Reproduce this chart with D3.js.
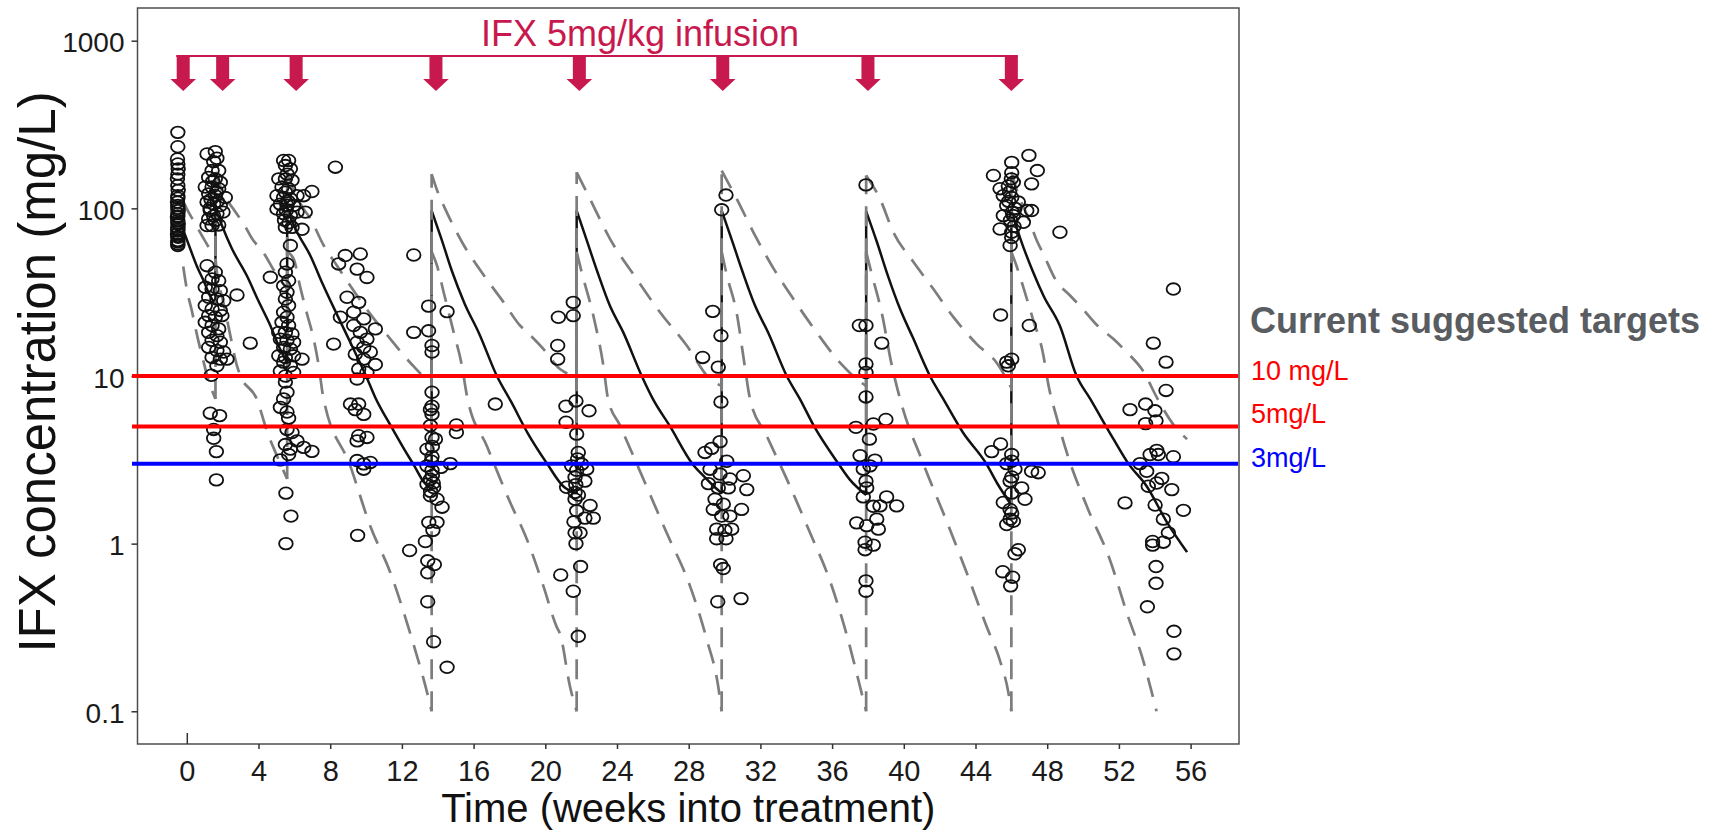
<!DOCTYPE html>
<html>
<head>
<meta charset="utf-8">
<script src="https://cdn.jsdelivr.net/npm/d3@7"></script>
<style>
  body { margin: 0; background: #fff; }
  svg { display: block; font-family: "Liberation Sans", Arial, sans-serif; }
</style>
</head>
<body>
<script>
// axis ticks
const xTicks = [0, 4, 8, 12, 16, 20, 24, 28, 32, 36, 40, 44, 48, 52, 56];
const yTicks = [0.1, 1, 10, 100, 1000];
const yTickLabels = ['0.1', '1', '10', '100', '1000'];

// infusion arrows (weeks, as placed on the slide)
const infusionWeeks = [-0.2, 2.0, 6.1, 13.9, 21.9, 29.9, 38.0, 46.0];

// target concentrations (mg/L)
const targetValues = [10, 5, 3];
const targetLabels = ['10 mg/L', '5mg/L', '3mg/L'];
const targetColors = ['#ff0000', '#ff0000', '#0000ff'];

// model median prediction [week, mg/L]
const medianPred = [
  [-0.15, 72], [0.2, 57], [0.57, 45], [0.94, 37], [1.3, 30], [1.6, 27],
  [1.6, 100], [1.96, 79], [2.5, 58], [3.36, 39.5], [4.0, 28], [4.66, 20], [5.2, 14.5], [5.6, 12],
  [5.6, 98], [6.1, 74], [6.9, 52], [7.6, 35], [8.4, 23], [9.3, 14.5], [10.0, 10], [10.5, 7.5], [11.4, 5.0], [12.1, 3.7], [12.7, 2.9], [13.2, 2.35], [13.66, 2.1],
  [13.66, 97], [14.2, 66], [14.8, 42], [15.5, 27], [16.3, 18], [17.3, 10], [18.1, 7.0], [19.0, 4.6], [20.1, 3.0], [21.0, 2.2], [21.75, 2.0],
  [21.75, 97], [22.3, 65], [22.9, 42], [23.6, 26.3], [24.35, 18.2], [25.38, 10], [26.0, 7.3], [26.96, 5.0], [28.2, 3.0], [28.8, 2.55], [29.4, 2.2], [29.84, 2.0],
  [29.84, 97], [30.4, 65], [31.0, 42], [31.7, 26.3], [32.45, 18], [33.47, 10], [34.2, 7.3], [35.0, 5.0], [36.35, 3.0], [37.0, 2.4], [37.9, 1.95],
  [37.9, 96], [38.5, 63], [39.1, 40], [39.8, 25], [40.5, 17], [41.46, 10], [42.2, 7.3], [43.3, 4.6], [44.6, 3.0], [45.2, 2.3], [46.0, 1.7],
  [46.0, 97], [46.5, 66], [47.2, 42], [47.8, 30], [48.7, 20], [49.64, 10], [50.4, 7.3], [51.7, 4.2], [52.53, 3.0], [53.55, 2.2], [54.7, 1.33], [55.8, 0.89]
];

// lower prediction bound
const lowerPred = [
  [-0.2, 45], [0.0, 33], [0.3, 24], [0.6, 17], [0.9, 12.6], [1.2, 9.5], [1.6, 7.3],
  [1.6, 50], [1.7, 40], [2.0, 28.8], [2.2, 22.9], [2.45, 17], [2.8, 11.5], [3.0, 10], [3.9, 7.3], [4.5, 4.6], [5.0, 3.4], [5.6, 2.43],
  [5.6, 55], [5.96, 50], [6.33, 33.8], [6.71, 23.4], [7.08, 16.6], [7.36, 11.5], [7.6, 7.6], [9.12, 2.91], [10.24, 1.27], [11.36, 0.67], [12.47, 0.29], [13.4, 0.13], [13.66, 0.1],
  [13.66, 55], [13.96, 45.5], [14.33, 31.6], [14.89, 18.2], [15.35, 11.5], [15.63, 7.6], [16.75, 3.8], [18.03, 1.77], [18.96, 1.07], [19.89, 0.56], [20.63, 0.32], [20.82, 0.29], [21.38, 0.14], [21.75, 0.1],
  [21.75, 55], [22.03, 41.6], [22.68, 22.9], [23.24, 11.5], [23.5, 7.3], [24.17, 5.06], [25.47, 2.43], [26.77, 1.16], [28.07, 0.56], [29.0, 0.27], [29.65, 0.14], [29.84, 0.1],
  [29.84, 55], [30.1, 41], [30.7, 23], [31.1, 12], [31.42, 7.3], [32.35, 4.4], [33.65, 2.2], [34.77, 1.16], [35.88, 0.6], [36.8, 0.29], [37.56, 0.14], [37.9, 0.1],
  [37.9, 55], [38.2, 41], [38.8, 23], [39.3, 12], [39.79, 7.3], [41.09, 3.0], [42.39, 1.36], [43.51, 0.67], [44.62, 0.32], [45.37, 0.2], [45.83, 0.13], [46.0, 0.1],
  [46.0, 55], [46.3, 45], [46.67, 33.8], [47.2, 21.9], [47.75, 13.9], [48.1, 8.5], [48.5, 5.8], [49.09, 3.5], [50.2, 1.68], [51.5, 0.8], [52.43, 0.39], [53.36, 0.2], [53.83, 0.13], [54.1, 0.1]
];

// upper prediction bound
const upperPred = [
  [-0.2, 110], [0.01, 99], [0.5, 80], [0.94, 66], [1.3, 57], [1.6, 52],
  [1.6, 165], [2.0, 125], [2.6, 99], [3.2, 80], [3.64, 66], [4.3, 54], [4.84, 43], [5.6, 33],
  [5.6, 165], [6.0, 125], [6.5, 100], [6.89, 87], [7.64, 60], [8.38, 45.5], [9.12, 34.5], [10.24, 23.4], [11.36, 16.6], [12.47, 12], [13.21, 10], [13.66, 9.5],
  [13.66, 160], [14.0, 125], [14.42, 99], [15.35, 63], [16.56, 40], [17.68, 27.5], [18.59, 20], [19.0, 18.2], [19.89, 14.5], [20.82, 11], [21.75, 10],
  [21.75, 164], [22.49, 114], [23.61, 65.8], [25.1, 37.9], [26.4, 24], [27.89, 15.2], [29.19, 9.6], [29.84, 8.7],
  [29.84, 168], [30.68, 114], [31.61, 72], [32.72, 44], [33.84, 28.8], [35.14, 18.2], [36.44, 12], [37.37, 9.6], [37.9, 8.7],
  [37.9, 157], [38.67, 114], [39.42, 72], [40.53, 48], [41.65, 33], [42.76, 22.5], [44.07, 15.5], [45.18, 12], [46.0, 8.5],
  [46.0, 165], [46.4, 120], [46.9, 90], [47.4, 65], [47.8, 53], [48.5, 37], [49.3, 30], [50.0, 25], [50.8, 20], [51.7, 16.6], [52.4, 14], [53.4, 10.5], [54.1, 7.5], [55.0, 5.2], [55.8, 4.2]
];

// observed concentrations [week, mg/L], grouped by visit
const obsVisit1 = [
  [-0.5, 284], [-0.5, 233], [-0.52, 197], [-0.5, 184], [-0.48, 172], [-0.5, 160], [-0.52, 150], [-0.5, 137],
  [-0.48, 128], [-0.5, 119], [-0.5, 115], [-0.52, 109], [-0.5, 104], [-0.5, 100], [-0.48, 97], [-0.5, 93],
  [-0.5, 90], [-0.52, 88.5], [-0.5, 84.5], [-0.5, 82], [-0.48, 80.7], [-0.5, 77], [-0.5, 75], [-0.5, 73.6],
  [-0.52, 70.3], [-0.5, 68], [-0.48, 67.2], [-0.5, 64.2], [-0.5, 63], [-0.5, 61.3], [-0.5, 60]
];
const obsVisit2 = [
  [1.13, 211], [1.59, 218], [1.68, 199], [1.5, 190], [1.41, 168], [1.78, 168], [1.22, 153], [1.59, 150],
  [1.45, 145], [1.87, 143], [1.03, 134], [1.41, 134], [1.78, 131], [1.65, 125], [1.22, 122], [1.59, 119],
  [2.15, 116], [1.35, 113], [1.7, 110], [1.13, 109], [1.5, 106], [1.87, 104], [1.3, 100], [1.31, 97],
  [1.68, 93], [2.02, 95], [1.5, 90], [1.22, 86.5], [1.59, 84.5], [1.41, 79], [1.78, 79.6], [1.13, 79],
  [1.13, 45.5], [1.59, 41.6], [1.41, 37.9], [1.78, 37], [1.03, 33.8], [1.41, 33], [1.87, 32.3], [1.22, 29.5],
  [1.68, 28.8], [2.06, 28.1], [1.03, 26.3], [1.41, 25.1], [1.87, 24.6], [1.22, 22.9], [1.59, 22.4], [1.96, 22.9],
  [1.03, 20.9], [1.41, 20], [1.78, 19.1], [1.22, 18.2], [1.68, 17.4], [1.41, 16.3], [1.87, 15.9], [1.22, 14.8],
  [1.68, 14.2], [2.06, 13.9], [1.41, 12.9], [1.87, 12.6], [2.24, 12.6], [1.68, 11.5], [1.37, 10.1],
  [1.31, 6.0], [1.83, 5.8], [1.5, 4.8], [1.5, 4.25], [1.65, 3.54], [1.65, 2.4],
  [2.8, 30.4], [3.54, 15.7], [4.66, 38.8]
];
const obsVisit3 = [
  [5.4, 193], [5.68, 193], [5.5, 180], [5.78, 172], [5.6, 160], [5.13, 150], [5.5, 150], [5.87, 147],
  [5.31, 134], [5.68, 131], [5.5, 125], [5.03, 119], [5.4, 116], [5.78, 114], [6.15, 119], [6.52, 119],
  [6.98, 126], [5.65, 110], [5.22, 106], [5.59, 104], [5.96, 104], [6.61, 95], [5.03, 99], [5.55, 97],
  [5.4, 93], [5.78, 90.5], [6.15, 95], [5.45, 85], [5.7, 82], [5.5, 77], [5.87, 77], [6.43, 75], [5.78, 60],
  [8.29, 176], [8.19, 15.5],
  [5.59, 46.6], [5.5, 41.6], [5.68, 37], [5.4, 34.5], [5.59, 31.6], [5.5, 28.8], [5.68, 26.3], [5.4, 24],
  [5.59, 22.4], [5.31, 20.9], [5.68, 20], [5.13, 18.2], [5.5, 18.2], [5.87, 17.8], [5.22, 16.6], [5.59, 16.3],
  [5.96, 15.9], [5.4, 14.8], [5.78, 14.5], [5.13, 13.2], [5.5, 12.9], [5.96, 13.2], [6.43, 12.6], [5.4, 12.1],
  [5.78, 11.5], [5.22, 10.7], [5.96, 10.5], [5.5, 10.0], [5.5, 9.2], [5.59, 8.0], [5.4, 7.3], [5.22, 6.5],
  [5.59, 6.1], [5.68, 5.6], [5.59, 4.8], [5.87, 4.6], [6.15, 4.1], [5.5, 3.9], [5.78, 3.66], [6.52, 3.75],
  [6.98, 3.55], [5.22, 3.16], [5.68, 3.4], [5.53, 2.0], [5.81, 1.46], [5.53, 1.0]
];
const obsVisit4 = [
  [8.84, 52.3], [9.68, 53.4], [8.47, 46.6], [9.5, 43.4], [10.05, 38.7], [8.94, 29.5], [9.59, 27.5], [8.57, 22.4],
  [9.31, 24], [9.87, 21.9], [10.52, 19.1], [9.31, 20], [9.68, 18.2], [10.05, 16.6], [9.5, 15.9], [9.87, 14.8],
  [10.24, 13.9], [9.4, 13.5], [9.87, 12.6], [10.52, 11.7], [9.59, 11], [10.05, 10.5], [9.5, 9.6], [9.13, 6.8],
  [9.59, 6.8], [9.87, 5.9], [9.4, 6.3], [9.59, 4.4], [10.05, 4.3], [9.5, 4.1], [9.5, 3.13], [9.87, 2.99],
  [10.24, 3.05], [9.87, 2.78], [9.53, 1.12],
  [12.66, 52.7], [13.49, 26.1], [14.52, 24.2], [12.66, 18.2], [13.49, 18.6], [17.21, 6.8]
];
const obsVisit5 = [
  [13.68, 15.2], [13.68, 13.9], [13.68, 8.0], [13.68, 6.6], [13.59, 6.3], [13.68, 5.9], [13.59, 5.06], [13.68, 4.3],
  [13.87, 4.2], [13.7, 3.8], [13.4, 3.66], [13.68, 3.3], [13.65, 3.1], [13.4, 2.91], [13.68, 2.74], [13.7, 2.55],
  [13.59, 2.42], [13.75, 2.3], [13.4, 2.26], [13.77, 2.16], [13.6, 2.05], [13.59, 1.93], [13.96, 1.84], [14.24, 1.65],
  [13.5, 1.34], [13.96, 1.34], [13.73, 1.2], [13.31, 1.03], [12.43, 0.91], [13.44, 0.79], [13.81, 0.75], [13.44, 0.67],
  [13.44, 0.45], [13.77, 0.26], [14.52, 0.183], [15.04, 5.1], [15.04, 4.6], [14.7, 3.0], [14.18, 2.85]
];
const obsVisit6 = [
  [21.56, 27.5], [20.73, 22.4], [21.56, 22.9], [20.69, 15.2], [20.69, 12.6], [21.71, 7.1], [21.15, 6.6], [22.44, 6.2],
  [21.16, 5.3], [21.75, 4.5], [21.84, 3.5], [21.8, 3.2], [21.47, 2.91], [22.03, 2.98], [21.75, 2.74], [22.31, 2.78],
  [21.66, 2.49], [22.21, 2.36], [21.7, 2.25], [21.19, 2.17], [21.66, 2.02], [21.85, 1.95], [21.66, 1.84], [22.5, 1.69],
  [21.75, 1.57], [22.21, 1.42], [22.68, 1.42], [21.6, 1.35], [21.66, 1.16], [21.94, 1.16], [21.71, 1.0], [21.97, 0.73],
  [20.86, 0.65], [21.56, 0.52], [21.84, 0.28]
];
const obsVisit7 = [
  [30.08, 120], [29.84, 98], [29.34, 24.3], [29.8, 17.4], [28.78, 12.9], [29.65, 11.3], [29.8, 7.0],
  [29.75, 4.06], [28.91, 3.5], [29.28, 3.7], [30.12, 3.1], [29.19, 2.78], [29.75, 2.6], [30.3, 2.43], [31.05, 2.54],
  [29.1, 2.28], [29.65, 2.15], [30.21, 2.15], [31.24, 2.1], [29.47, 1.84], [29.93, 1.72], [30.95, 1.6], [29.37, 1.6],
  [29.84, 1.46], [30.3, 1.46], [29.56, 1.22], [30.02, 1.2], [30.4, 1.22], [29.56, 1.07], [30.08, 1.07], [29.78, 0.75],
  [29.93, 0.71], [29.62, 0.45], [30.92, 0.47]
];
const obsVisit8 = [
  [37.89, 138], [37.52, 20], [37.89, 20], [38.77, 15.7], [37.89, 11.8], [37.89, 10.5], [37.89, 7.5], [39.0, 5.5],
  [37.33, 4.94], [38.3, 5.17], [38.08, 4.2], [37.56, 3.35], [38.39, 3.15], [37.74, 2.78], [38.11, 2.91], [37.89, 2.36],
  [37.93, 2.15], [37.74, 1.9], [39.04, 1.9], [38.3, 1.67], [38.67, 1.68], [39.6, 1.68], [37.37, 1.33], [37.93, 1.28],
  [38.49, 1.4], [38.58, 1.22], [37.84, 1.02], [38.3, 0.98], [37.84, 0.92], [37.89, 0.6], [37.89, 0.52]
];
const obsVisit9 = [
  [46.02, 188], [46.98, 207], [47.45, 168], [45.0, 157], [46.02, 163], [46.0, 150], [47.13, 140], [45.37, 131],
  [45.83, 136], [46.11, 143], [45.9, 125], [45.55, 119], [46.02, 116], [45.85, 110], [46.39, 109], [45.74, 104],
  [46.2, 100], [46.86, 97], [47.13, 97], [46.05, 95], [45.55, 90.5], [46.11, 90.5], [45.95, 85], [46.67, 82.6],
  [46.15, 78], [45.37, 75.3], [46.02, 72], [46.02, 67], [45.93, 60], [48.71, 72], [45.4, 23.1], [47.0, 20],
  [45.74, 12.1], [46.02, 12.6], [45.83, 11.5],
  [44.9, 3.54], [45.4, 3.93], [46.02, 3.4], [46.02, 3.1], [45.74, 3.0], [46.2, 2.78], [47.13, 2.7], [47.5, 2.65],
  [46.02, 2.5], [45.93, 2.36], [46.58, 2.15], [46.02, 2.0], [46.76, 1.84], [45.55, 1.76], [45.93, 1.6], [46.02, 1.52],
  [45.93, 1.4], [46.11, 1.36], [45.74, 1.3], [46.39, 0.92], [46.2, 0.87], [45.52, 0.68], [46.07, 0.63], [45.96, 0.56]
];
const obsVisit10 = [
  [55.04, 33], [53.92, 15.7], [54.63, 12.1], [54.63, 8.2], [52.62, 6.3], [53.49, 6.8], [54.01, 6.2], [53.49, 5.2],
  [54.07, 5.4], [54.11, 3.6], [54.2, 3.4], [53.74, 3.4], [55.04, 3.3], [53.18, 3.0], [53.55, 2.7], [54.39, 2.45],
  [54.11, 2.3], [53.64, 2.2], [54.95, 2.1], [52.34, 1.75], [54.02, 1.7], [55.6, 1.58], [54.48, 1.4], [54.76, 1.16],
  [53.88, 1.03], [54.48, 1.02], [53.88, 0.98], [54.07, 0.73], [54.07, 0.58], [53.59, 0.42], [55.07, 0.30], [55.07, 0.22]
];
const observed = [].concat(obsVisit1, obsVisit2, obsVisit3, obsVisit4, obsVisit5,
  obsVisit6, obsVisit7, obsVisit8, obsVisit9, obsVisit10);

const width = 1709, height = 830;
const panel = { left: 137.5, right: 1239, top: 8, bottom: 744 };
const font = '"Liberation Sans", Arial, sans-serif';
const crimson = '#c8194f';

const svg = d3.select('body').append('svg')
  .attr('width', width)
  .attr('height', height);

const x = d3.scaleLinear().domain([-2.75, 58.7]).range([panel.left, panel.right]);
const y = d3.scaleLog().domain([0.0638, 1567]).range([panel.bottom, panel.top]);

// split a series wherever the time repeats (dose given -> vertical jump)
function splitAtDoses(points) {
  const segs = [[points[0]]];
  for (let i = 1; i < points.length; i++) {
    if (points[i][0] === points[i - 1][0]) segs.push([]);
    segs[segs.length - 1].push(points[i]);
  }
  return segs;
}

const smooth = d3.line()
  .x(d => x(d[0]))
  .y(d => y(d[1]))
  .curve(d3.curveMonotoneX);

function drawSeries(points, stroke, widthPx, dash) {
  const segs = splitAtDoses(points);
  const g = svg.append('g');
  segs.forEach((seg, i) => {
    g.append('path')
      .attr('d', smooth(seg))
      .attr('fill', 'none')
      .attr('stroke', stroke)
      .attr('stroke-width', widthPx)
      .attr('stroke-dasharray', dash);
    if (i > 0) {
      const prev = segs[i - 1][segs[i - 1].length - 1];
      g.append('line')
        .attr('x1', x(prev[0])).attr('y1', y(prev[1]))
        .attr('x2', x(seg[0][0])).attr('y2', y(seg[0][1]))
        .attr('stroke', stroke)
        .attr('stroke-width', widthPx)
        .attr('stroke-dasharray', dash);
    }
  });
}

drawSeries(medianPred, '#111', 2.5, null);
drawSeries(lowerPred, '#7d7d7d', 2.7, '20,12');
drawSeries(upperPred, '#7d7d7d', 2.7, '20,12');

// observations
svg.append('g')
  .selectAll('ellipse')
  .data(observed)
  .enter().append('ellipse')
  .attr('cx', d => x(d[0]))
  .attr('cy', d => y(d[1]))
  .attr('rx', 6.8)
  .attr('ry', 5.8)
  .attr('fill', 'none')
  .attr('stroke', '#111')
  .attr('stroke-width', 1.8);

// panel border
svg.append('rect')
  .attr('x', panel.left)
  .attr('y', panel.top)
  .attr('width', panel.right - panel.left)
  .attr('height', panel.bottom - panel.top)
  .attr('fill', 'none')
  .attr('stroke', '#4d4d4d')
  .attr('stroke-width', 1.5);

// axes
const xAxisG = svg.append('g')
  .attr('transform', `translate(0,${panel.bottom})`)
  .call(d3.axisBottom(x).tickValues(xTicks).tickSize(5).tickPadding(11).tickFormat(d3.format('d')));
xAxisG.select('.domain').remove();
xAxisG.selectAll('line').attr('stroke', '#333').attr('stroke-width', 1.5);
xAxisG.selectAll('.tick').filter(d => d === 0).select('line').attr('y2', -11);
xAxisG.selectAll('text').attr('font-size', 29).attr('font-family', font).attr('fill', '#1a1a1a');

const yAxisG = svg.append('g')
  .attr('transform', `translate(${panel.left},0)`)
  .call(d3.axisLeft(y).tickValues(yTicks).tickSize(6).tickPadding(7)
    .tickFormat((d, i) => yTickLabels[i]));
yAxisG.select('.domain').remove();
yAxisG.selectAll('line').attr('stroke', '#333').attr('stroke-width', 1.5);
yAxisG.selectAll('text').attr('font-size', 28).attr('font-family', font).attr('fill', '#1a1a1a').attr('dy', '0.4em');

// axis titles
svg.append('text')
  .attr('x', (panel.left + panel.right) / 2)
  .attr('y', 822)
  .attr('text-anchor', 'middle')
  .attr('font-size', 40)
  .attr('fill', '#111')
  .text('Time (weeks into treatment)');

svg.append('text')
  .attr('transform', 'translate(55,372) rotate(-90)')
  .attr('text-anchor', 'middle')
  .attr('font-size', 51)
  .attr('fill', '#111')
  .text('IFX concentration (mg/L)');

// target lines
const targetDy = [4, -3, 3];
svg.append('g')
  .selectAll('line')
  .data(targetValues)
  .enter().append('line')
  .attr('x1', 132)
  .attr('x2', panel.right - 1)
  .attr('y1', d => y(d))
  .attr('y2', d => y(d))
  .attr('stroke', (d, i) => targetColors[i])
  .attr('stroke-width', 4);

svg.append('g')
  .selectAll('text')
  .data(targetValues)
  .enter().append('text')
  .attr('x', 1251)
  .attr('y', (d, i) => y(d) + targetDy[i])
  .attr('font-size', 27)
  .attr('fill', (d, i) => targetColors[i])
  .text((d, i) => targetLabels[i]);

svg.append('text')
  .attr('x', 1250)
  .attr('y', 333)
  .attr('font-size', 36)
  .attr('font-weight', 'bold')
  .attr('fill', '#595c60')
  .text('Current suggested targets');

// infusion annotation
const barY = 56;
svg.append('line')
  .attr('x1', x(infusionWeeks[0]) - 7)
  .attr('x2', x(infusionWeeks[infusionWeeks.length - 1]) + 6.5)
  .attr('y1', barY)
  .attr('y2', barY)
  .attr('stroke', crimson)
  .attr('stroke-width', 2);

svg.append('g')
  .selectAll('path')
  .data(infusionWeeks)
  .enter().append('path')
  .attr('d', d => {
    const cx = x(d);
    return `M${cx - 6.5},${barY} L${cx + 6.5},${barY} L${cx + 6.5},79 L${cx + 12.8},79 ` +
      `L${cx},91 L${cx - 12.8},79 L${cx - 6.5},79 Z`;
  })
  .attr('fill', crimson);

svg.append('text')
  .attr('x', 640)
  .attr('y', 46)
  .attr('text-anchor', 'middle')
  .attr('font-size', 36)
  .attr('fill', crimson)
  .text('IFX 5mg/kg infusion');
</script>
</body>
</html>
